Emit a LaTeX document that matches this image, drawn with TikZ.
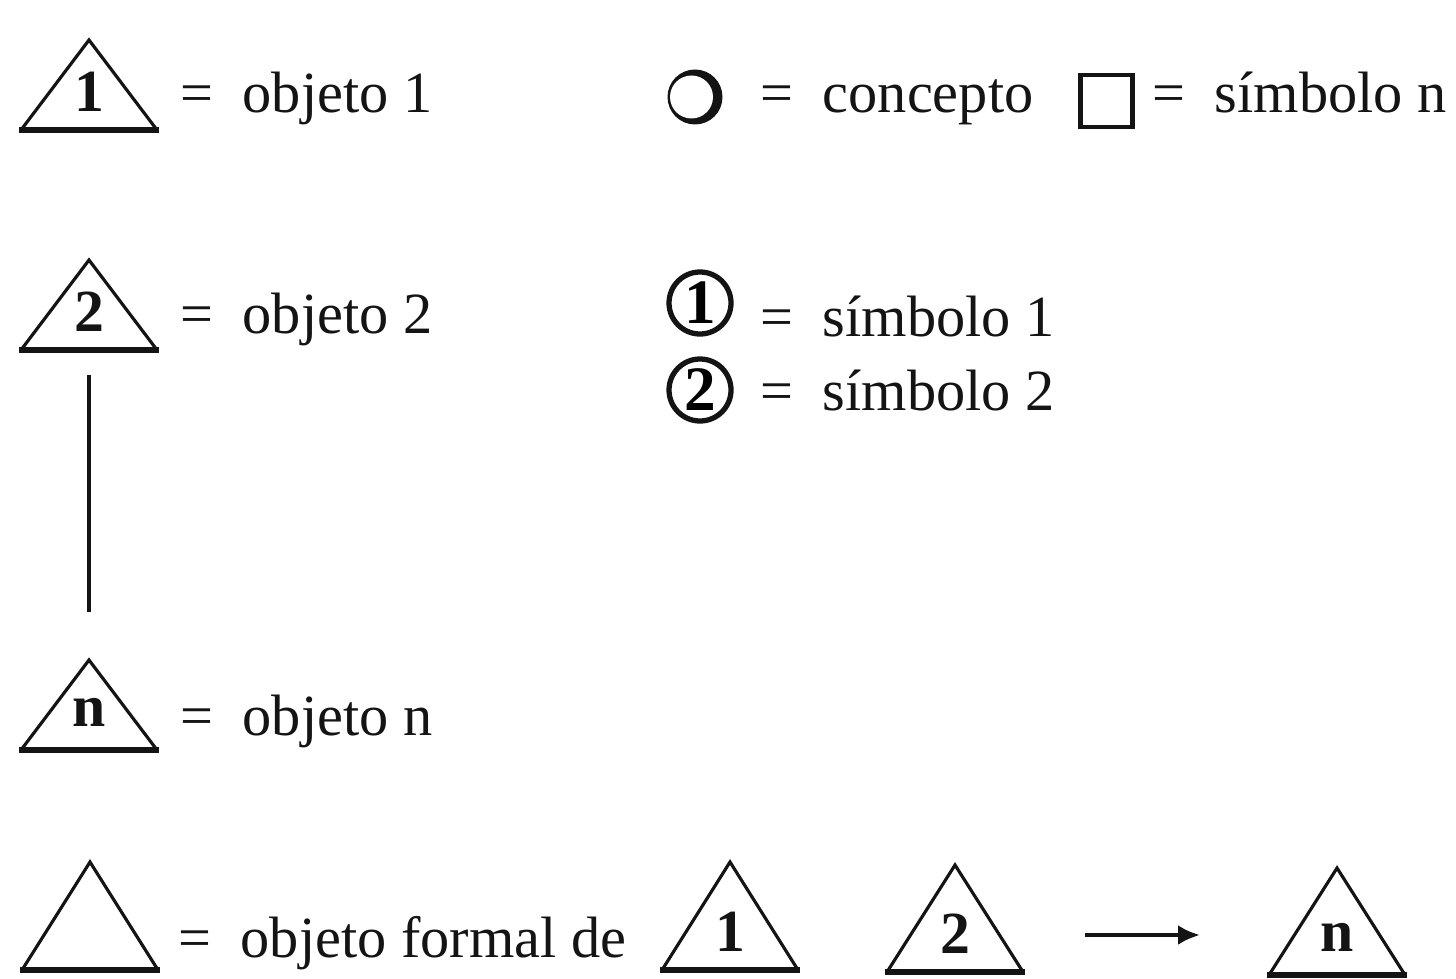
\documentclass[tikz,border=0pt]{standalone}
\usepackage{fontspec}
\setmainfont{Liberation Serif}
\usepackage{tikz}
\usetikzlibrary{calc,arrows.meta}
\definecolor{tinta}{RGB}{20, 20, 20}

% triangulo de objeto: [altura]{nombre}{base}{etiqueta}
\newcommand{\triobj}[4][0.9]{%
	\coordinate (#2) at #3;
	\coordinate (#2-top) at ($(#2)+(0,#1)$);
	\draw[lado] ($(#2)+(-0.68,0)$) -- (#2-top) -- ($(#2)+(0.68,0)$);
	\draw[base] ($(#2)+(-0.70,0)$) -- ($(#2)+(0.70,0)$);
	\node[etiq] (#2-l) at ($(#2)+(0,0.38)$) {#4};
}

\begin{document}
\begin{tikzpicture}[
	lado/.style={draw=tinta, line width=0.9pt, line join=miter},
	base/.style={draw=tinta, line width=1.7pt},
	etiq/.style={text=tinta, font=\fontsize{17}{20}\selectfont\bfseries, inner sep=0pt},
	texto/.style={text=tinta, font=\fontsize{16.6}{20}\selectfont, inner sep=0pt, anchor=base west},
	circnum/.style={circle, draw=tinta, line width=1.5pt, minimum size=0.62cm, inner sep=0pt,
		font=\fontsize{18}{20}\selectfont\bfseries},
	flecha/.style={draw=tinta, line width=1.2pt, -{Latex[length=0.22cm, width=0.2cm]}}
	]
	\useasboundingbox (0,0) rectangle (14.56,9.78);

	% Objetos
	\triobj{obj1}{(0.89,8.48)}{1}
	\triobj{obj2}{(0.89,6.28)}{2}
	\triobj{objn}{(0.89,2.28)}{n}
	\node[texto] (t-obj1) at (1.80,8.65) {=\ \ objeto 1};
	\node[texto] (t-obj2) at (1.80,6.45) {=\ \ objeto 2};
	\node[texto] (t-objn) at (1.80,2.43) {=\ \ objeto n};
	\draw[lado, line width=1.3pt] ([yshift=-0.25cm]obj2) -- ([yshift=0.48cm]objn-top);

	% Conceptos y simbolos
	\coordinate (concepto) at (6.95,8.81);
	\fill[tinta] (concepto) circle (0.275cm);
	\fill[white] ($(concepto)+(-0.035,0)$) circle (0.215cm);
	\node[texto] (t-concepto) at (7.60,8.65) {=\ \ concepto};
	\node[draw=tinta, line width=1.2pt, minimum size=0.52cm, inner sep=0pt] (simbn) at (11.065,8.77) {};
	\node[texto] (t-simbn) at (11.52,8.65) {=\ \ símbolo n};
	\node[circnum] (simb1) at (7.00,6.75) {1};
	\node[circnum] (simb2) at (7.00,5.88) {2};
	\node[texto] (t-simb1) at (7.60,6.42) {=\ \ símbolo 1};
	\node[texto] (t-simb2) at (7.60,5.68) {=\ \ símbolo 2};

	% Objeto formal
	\triobj[1.08]{formal}{(0.90,0.08)}{}
	\node[texto] (t-formal) at (1.78,0.21) {=\ \ objeto formal de};
	\triobj[1.08]{f1}{(7.30,0.08)}{1}
	\triobj[1.07]{f2}{(9.55,0.06)}{2}
	\triobj[1.07]{fn}{(13.37,0.03)}{n}
	\draw[flecha] ($(f2)+(1.30,0.37)$) -- ($(fn)+(-1.37,0.40)$);
\end{tikzpicture}
\end{document}
